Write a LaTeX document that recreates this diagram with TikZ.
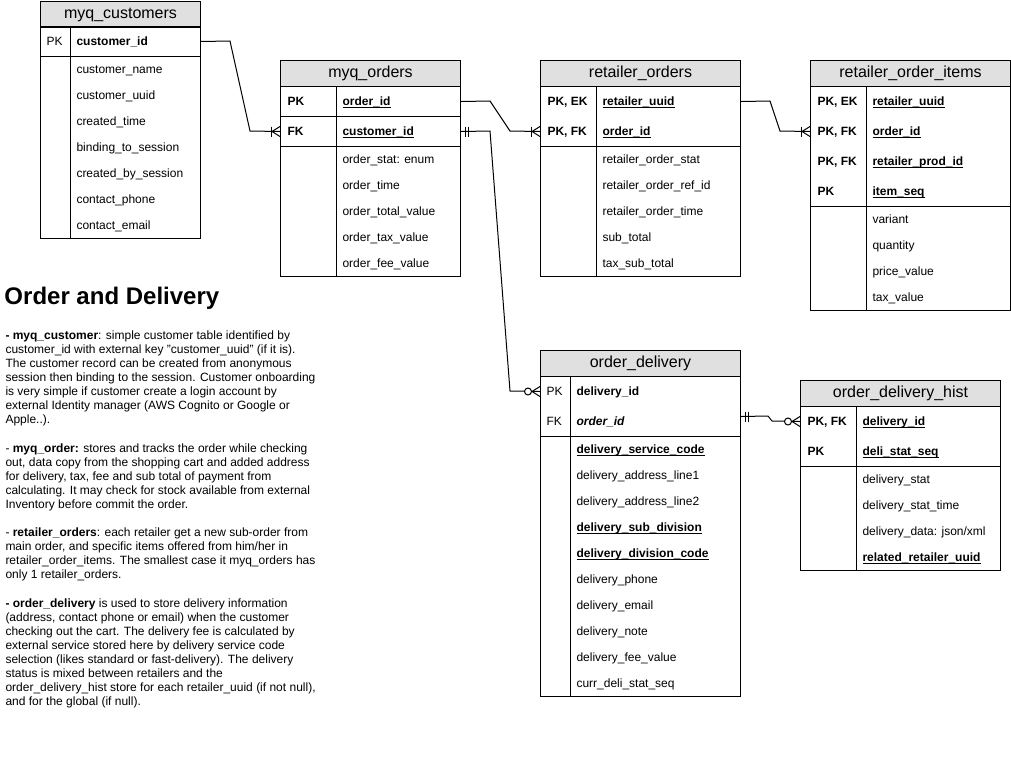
\documentclass[tikz,border=0pt]{standalone}
\usepackage{fontspec}
\setmainfont{Liberation Sans}
\usetikzlibrary{calc}
\definecolor{hdrgray}{RGB}{224,224,224}
\newcommand\ulk[1]{\setbox0\hbox{#1}\rlap{\rule[-2.3pt]{\wd0}{0.9pt}}\box0}
\newcommand\uk[1]{\ulk{\bfseries #1}}
\newcommand\mkOneMany[1]{%
  \draw ($(#1)+(-8,0)$) -- ($(#1)+(0,-5)$);
  \draw ($(#1)+(-8,0)$) -- ($(#1)+(0,5)$);
  \draw ($(#1)+(-9,-5)$) -- ($(#1)+(-9,5)$);}
\newcommand\mkZeroMany[1]{%
  \draw ($(#1)+(-8,0)$) -- ($(#1)+(0,-5)$);
  \draw ($(#1)+(-8,0)$) -- ($(#1)+(0,5)$);
  \draw[fill=white] ($(#1)+(-12,0)$) circle (3.5pt);}
\newcommand\mkMandOne[1]{%
  \draw ($(#1)+(4,-5)$) -- ($(#1)+(4,5)$);
  \draw ($(#1)+(7,-5)$) -- ($(#1)+(7,5)$);}
\tikzset{
  hdr/.style={draw, fill=hdrgray, minimum height=26pt, inner sep=0pt, anchor=north west,
    font=\fontsize{16}{19}\selectfont},
  cell/.style={inner sep=0pt, text height=9pt, text depth=3pt, anchor=west, yshift=-1.5pt,
    font=\fontsize{12}{14}\selectfont},
  rowbox/.style={inner sep=0pt, minimum height=30pt, anchor=north west},
}
\begin{document}
\begin{tikzpicture}[x=1pt, y=-1pt, line width=1pt]
\useasboundingbox (0,0) rectangle (1011,761);
\fill[white] (0,0) rectangle (1011,761);

% ---------- myq_customers ----------
\node[hdr, minimum width=160pt] (custH) at (40,1) {myq\_customers};
\draw (40,26) rectangle (200,238);
\draw (40,56) -- (200,56);
\draw (70,26) -- (70,238);
\node[rowbox, minimum width=160pt] (custid) at (40,26) {};
\node[cell] (custPK) at (46,41) {PK};
\node[cell] (custK1) at (76,41) {\bfseries customer\_id};
\foreach \txt [count=\i from 0] in {customer\_name, customer\_uuid, created\_time,
  binding\_to\_session, created\_by\_session, contact\_phone, contact\_email}
  \node[cell] (cust-b\i) at (76,{69+26*\i}) {\txt};

% ---------- myq_orders ----------
\node[hdr, minimum width=180pt] (ordH) at (280,60) {myq\_orders};
\draw (280,86) rectangle (460,276);
\draw (280,116) -- (460,116);
\draw (280,146) -- (460,146);
\draw (336,86) -- (336,276);
\node[rowbox, minimum width=180pt] (ordid) at (280,86) {};
\node[rowbox, minimum width=180pt] (ordcust) at (280,116) {};
\node[cell] (ordPK) at (287,101) {\bfseries PK};
\node[cell] (ordK1) at (342,101) {\uk{order\_id}};
\node[cell] (ordFK) at (287,131) {\bfseries FK};
\node[cell] (ordK2) at (342,131) {\uk{customer\_id}};
\foreach \txt [count=\i from 0] in {order\_stat: enum, order\_time, order\_total\_value,
  order\_tax\_value, order\_fee\_value}
  \node[cell] (ord-b\i) at (342,{159+26*\i}) {\txt};

% ---------- retailer_orders ----------
\node[hdr, minimum width=200pt] (roH) at (540,60) {retailer\_orders};
\draw (540,86) rectangle (740,276);
\draw (540,146) -- (740,146);
\draw (596,86) -- (596,276);
\node[rowbox, minimum width=200pt] (rouuid) at (540,86) {};
\node[rowbox, minimum width=200pt] (roorder) at (540,116) {};
\node[cell] (roL1) at (547,101) {\bfseries PK, EK};
\node[cell] (roK1) at (602,101) {\uk{retailer\_uuid}};
\node[cell] (roL2) at (547,131) {\bfseries PK, FK};
\node[cell] (roK2) at (602,131) {\uk{order\_id}};
\foreach \txt [count=\i from 0] in {retailer\_order\_stat, retailer\_order\_ref\_id,
  retailer\_order\_time, sub\_total, tax\_sub\_total}
  \node[cell] (ro-b\i) at (602,{159+26*\i}) {\txt};

% ---------- retailer_order_items ----------
\node[hdr, minimum width=200pt] (roiH) at (810,60) {retailer\_order\_items};
\draw (810,86) rectangle (1010,310);
\draw (810,206) -- (1010,206);
\draw (866,86) -- (866,310);
\node[rowbox, minimum width=200pt] (roiuuid) at (810,86) {};
\node[rowbox, minimum width=200pt] (roiorder) at (810,116) {};
\node[cell] (roiL1) at (817,101) {\bfseries PK, EK};
\node[cell] (roiK1) at (872,101) {\uk{retailer\_uuid}};
\node[cell] (roiL2) at (817,131) {\bfseries PK, FK};
\node[cell] (roiK2) at (872,131) {\uk{order\_id}};
\node[cell] (roiL3) at (817,161) {\bfseries PK, FK};
\node[cell] (roiK3) at (872,161) {\uk{retailer\_prod\_id}};
\node[cell] (roiL4) at (817,191) {\bfseries PK};
\node[cell] (roiK4) at (872,191) {\uk{item\_seq}};
\foreach \txt [count=\i from 0] in {variant, quantity, price\_value, tax\_value}
  \node[cell] (roi-b\i) at (872,{219+26*\i}) {\txt};

% ---------- order_delivery ----------
\node[hdr, minimum width=200pt] (delH) at (540,350) {order\_delivery};
\draw (540,376) rectangle (740,696);
\draw (540,436) -- (740,436);
\draw (570,376) -- (570,696);
\node[rowbox, minimum width=200pt] (delid) at (540,376) {};
\node[rowbox, minimum width=200pt] (delorder) at (540,406) {};
\node[cell] (delL1) at (546,391) {PK};
\node[cell] (delK1) at (576,391) {\bfseries delivery\_id};
\node[cell] (delL2) at (546,421) {FK};
\node[cell] (delK2) at (576,421) {\bfseries\itshape order\_id};
\foreach \txt [count=\i from 0] in {\uk{delivery\_service\_code}, delivery\_address\_line1,
  delivery\_address\_line2, \uk{delivery\_sub\_division}, \uk{delivery\_division\_code},
  delivery\_phone, delivery\_email, delivery\_note, delivery\_fee\_value, curr\_deli\_stat\_seq}
  \node[cell] (del-b\i) at (576,{449+26*\i}) {\txt};

% ---------- order_delivery_hist ----------
\node[hdr, minimum width=200pt] (histH) at (800,380) {order\_delivery\_hist};
\draw (800,406) rectangle (1000,570);
\draw (800,466) -- (1000,466);
\draw (856,406) -- (856,570);
\node[rowbox, minimum width=200pt] (histid) at (800,406) {};
\node[rowbox, minimum width=200pt] (histseq) at (800,436) {};
\node[cell] (histL1) at (807,421) {\bfseries PK, FK};
\node[cell] (histK1) at (862,421) {\uk{delivery\_id}};
\node[cell] (histL2) at (807,451) {\bfseries PK};
\node[cell] (histK2) at (862,451) {\uk{deli\_stat\_seq}};
\foreach \txt [count=\i from 0] in {delivery\_stat, delivery\_stat\_time,
  delivery\_data: json/xml, \uk{related\_retailer\_uuid}}
  \node[cell] (hist-b\i) at (862,{479+26*\i}) {\txt};

% ---------- connectors ----------
\draw (custid.east) -- (230,41) -- (250,131) -- (ordcust.west);
\mkOneMany{ordcust.west}
\draw (ordid.east) -- (490,101) -- (510,131) -- (roorder.west);
\mkOneMany{roorder.west}
\draw (rouuid.east) -- (770,101) -- (780,131) -- (roiorder.west);
\mkOneMany{roiorder.west}
\draw (ordcust.east) -- (490,131) -- (510,391) -- (delid.west);
\mkMandOne{ordcust.east}
\mkZeroMany{delid.west}
\coordinate (c5s) at ($(delorder.east)+(0,-5)$);
\draw (c5s) -- (768,416) -- (772,421) -- (histid.west);
\mkMandOne{c5s}
\mkZeroMany{histid.west}

% ---------- description ----------
\node[anchor=base west, inner sep=0pt, font=\bfseries\fontsize{24}{28}\selectfont] (title) at (4,304) {Order and Delivery};
\node[anchor=north west, inner sep=0pt, align=left, font=\fontsize{12}{14.1}\selectfont] (desc) at (5,330) {%
\textbf{- myq\_customer}: simple customer table identified by\\
customer\_id with external key "customer\_uuid" (if it is).\\
The customer record can be created from anonymous\\
session then binding to the session. Customer onboarding\\
is very simple if customer create a login account by\\
external Identity manager (AWS Cognito or Google or\\
Apple..).\\[14.1pt]
- \textbf{myq\_order:} stores and tracks the order while checking\\
out, data copy from the shopping cart and added address\\
for delivery, tax, fee and sub total of payment from\\
calculating. It may check for stock available from external\\
Inventory before commit the order.\\[14.1pt]
- \textbf{retailer\_orders}: each retailer get a new sub-order from\\
main order, and specific items offered from him/her in\\
retailer\_order\_items. The smallest case it myq\_orders has\\
only 1 retailer\_orders.\\[14.1pt]
\textbf{- order\_delivery} is used to store delivery information\\
(address, contact phone or email) when the customer\\
checking out the cart. The delivery fee is calculated by\\
external service stored here by delivery service code\\
selection (likes standard or fast-delivery). The delivery\\
status is mixed between retailers and the\\
order\_delivery\_hist store for each retailer\_uuid (if not null),\\
and for the global (if null).};
\end{tikzpicture}
\end{document}
